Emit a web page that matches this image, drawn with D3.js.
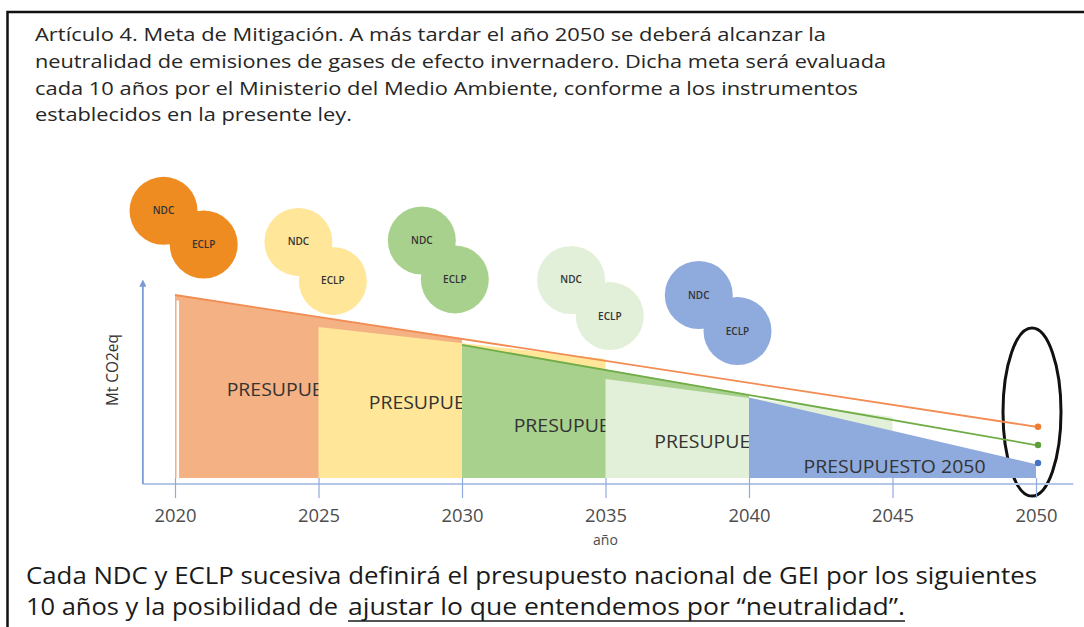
<!DOCTYPE html>
<html>
<head>
<meta charset="utf-8">
<script src="https://cdn.jsdelivr.net/npm/d3@7"></script>
<style>
  body { margin: 0; background: #fff; }
  svg { display: block; font-family: "Open Sans", sans-serif; }
</style>
</head>
<body>
<div id="chart"></div>
<script>
// ---- data ----
const header_lines = [
  "Artículo 4. Meta de Mitigación. A más tardar el año 2050 se deberá alcanzar la",
  "neutralidad de emisiones de gases de efecto invernadero. Dicha meta será evaluada",
  "cada 10 años por el Ministerio del Medio Ambiente, conforme a los instrumentos",
  "establecidos en la presente ley.",
];
const header_widths = [791, 851, 823, 317];

const footer_line1 = "Cada NDC y ECLP sucesiva definirá el presupuesto nacional de GEI por los siguientes";
const footer_line2a = "10 años y la posibilidad de";
const footer_line2b = "ajustar lo que entendemos  por “neutralidad”.";

const tick_years = [2020, 2025, 2030, 2035, 2040, 2045, 2050];

// each budget: years covered, emissions (Mt CO2eq) at start / end
const budget_names = [
  "PRESUPUESTO 2025",
  "PRESUPUESTO 2030",
  "PRESUPUESTO 2035",
  "PRESUPUESTO 2040",
  "PRESUPUESTO 2050",
];
const budget_years = [[2020, 2030], [2025, 2035], [2030, 2040], [2035, 2045], [2040, 2050]];
const budget_values = [[100, 76], [82.5, 65], [72.7, 45.4], [54.1, 33.3], [44, 7.5]];
const budget_colors = ["#f4b183", "#ffe699", "#a9d18e", "#e2f0d9", "#8faadc"];
const budget_label_at = [[2021.8, 48], [2026.75, 41], [2031.8, 28.4], [2036.7, 19.7], [2041.9, 6]];

// trajectories carried on to 2050
const trajectory_years = [[2020, 2050], [2030, 2050]];
const trajectory_values = [[100, 28], [72.7, 18]];
const trajectory_colors = ["#f28c52", "#70ad47"];
const end_dots = [28, 18, 8.2];
const end_dot_colors = ["#f07a32", "#5e9e3a", "#4472c4"];

// NDC / ECLP bubbles: [year, Mt] of their centres
const bubble_ndc = [[2019.6, 146], [2024.3, 129], [2028.6, 129.8], [2033.8, 108.2], [2038.25, 100]];
const bubble_eclp = [[2021, 127.6], [2025.5, 107.7], [2029.75, 108.5], [2035.15, 88.5], [2039.6, 80.3]];
const bubble_colors = ["#ee8c22", "#ffe699", "#a9d18e", "#e2f0d9", "#8faadc"];

// ---- layout ----
const width = 1084;
const height = 627;

const x = d3.scaleLinear().domain([2020, 2050]).range([175, 1036]);
const y = d3.scaleLinear().domain([0, 100]).range([478, 295]);

const axis_settings = {
  color: "#8faadc",
  y_color: "#7b9bd6",
  x_start: 2018.88,
  x_end: 2051.3,
  y_top: 106.5,
  offset: 6,
};

const svg = d3
  .select("#chart")
  .append("svg")
  .attr("width", width)
  .attr("height", height);

svg.append("rect").attr("width", width).attr("height", height).attr("fill", "#fff");

// frame
svg
  .append("path")
  .attr("d", `M7.5,${height} V12 H${width}`)
  .attr("fill", "none")
  .attr("stroke", "#111")
  .attr("stroke-width", 2.5);

// header
svg
  .append("g")
  .selectAll("text")
  .data(header_lines)
  .join("text")
  .attr("x", 35)
  .attr("y", (d, i) => 41 + i * 26.8)
  .attr("font-size", 18)
  .attr("fill", "#262626")
  .attr("textLength", (d, i) => header_widths[i])
  .attr("lengthAdjust", "spacingAndGlyphs")
  .text((d) => d);

// bubbles
const bubble_r = 34;
const bubbles_g = svg.append("g");
bubble_ndc.forEach((ndc, i) => {
  const pair = [
    [ndc, "NDC"],
    [bubble_eclp[i], "ECLP"],
  ];
  pair.forEach(([pos]) => {
    bubbles_g
      .append("circle")
      .attr("cx", x(pos[0]))
      .attr("cy", y(pos[1]))
      .attr("r", bubble_r)
      .attr("fill", bubble_colors[i]);
  });
  pair.forEach(([pos, label]) => {
    bubbles_g
      .append("text")
      .attr("x", x(pos[0]))
      .attr("y", y(pos[1]))
      .attr("dy", "0.35em")
      .attr("text-anchor", "middle")
      .attr("font-size", 10)
      .attr("font-weight", 600)
      .attr("fill", "#333")
      .text(label);
  });
});

// ring around 2050
svg
  .append("ellipse")
  .attr("cx", x(2050) - 4)
  .attr("cy", y(36))
  .attr("rx", 29)
  .attr("ry", 84)
  .attr("fill", "none")
  .attr("stroke", "#111")
  .attr("stroke-width", 3);

// budgets, each drawn over the previous one
const area = d3
  .area()
  .x((d) => x(d[0]))
  .y0(y(0))
  .y1((d) => y(d[1]));

const budgets_g = svg.append("g");
budget_names.forEach((name, i) => {
  const [y0, y1] = budget_years[i];
  const [v0, v1] = budget_values[i];
  budgets_g
    .append("path")
    .attr("d", area([[y0, v0], [y1, v1]]))
    .attr("fill", budget_colors[i]);
  budgets_g
    .append("text")
    .attr("x", x(budget_label_at[i][0]))
    .attr("y", y(budget_label_at[i][1]))
    .attr("dy", "0.35em")
    .attr("font-size", 17.5)
    .attr("fill", "#333")
    .attr("textLength", 182)
    .attr("lengthAdjust", "spacingAndGlyphs")
    .text(name);
});

// thin white gap near the left edge of the first budget
svg
  .append("line")
  .attr("x1", x(2020) + 2.8)
  .attr("x2", x(2020) + 2.8)
  .attr("y1", y(97))
  .attr("y2", y(0))
  .attr("stroke", "#fff")
  .attr("stroke-width", 2.5);

// trajectories
const line = d3
  .line()
  .x((d) => x(d[0]))
  .y((d) => y(d[1]));

trajectory_years.forEach((yrs, i) => {
  svg
    .append("path")
    .attr("d", line([[yrs[0], trajectory_values[i][0]], [yrs[1], trajectory_values[i][1]]]))
    .attr("fill", "none")
    .attr("stroke", trajectory_colors[i])
    .attr("stroke-width", 1.8);
});

svg
  .append("g")
  .selectAll("circle")
  .data(end_dots)
  .join("circle")
  .attr("cx", x(2050) + 2)
  .attr("cy", (d) => y(d))
  .attr("r", 3.2)
  .attr("fill", (d, i) => end_dot_colors[i]);

// axes
const base_y = y(0) + axis_settings.offset;

svg
  .append("defs")
  .append("marker")
  .attr("id", "arrow")
  .attr("viewBox", "0 0 10 10")
  .attr("refX", 5)
  .attr("refY", 5)
  .attr("markerWidth", 4)
  .attr("markerHeight", 4)
  .attr("orient", "auto")
  .append("path")
  .attr("d", "M0,0 L10,5 L0,10 z")
  .attr("fill", axis_settings.y_color);

svg
  .append("line")
  .attr("x1", x(axis_settings.x_start))
  .attr("x2", x(axis_settings.x_end))
  .attr("y1", base_y)
  .attr("y2", base_y)
  .attr("stroke", "#b4c7e7")
  .attr("stroke-width", 2);

svg
  .append("line")
  .attr("x1", x(axis_settings.x_start))
  .attr("x2", x(axis_settings.x_start))
  .attr("y1", base_y)
  .attr("y2", y(axis_settings.y_top))
  .attr("stroke", axis_settings.y_color)
  .attr("stroke-width", 1.8)
  .attr("marker-end", "url(#arrow)");

const x_axis = svg
  .append("g")
  .attr("transform", `translate(0, ${base_y})`)
  .call(d3.axisBottom(x).tickValues(tick_years).tickFormat(d3.format("d")).tickSizeOuter(0));

x_axis.select(".domain").remove();
x_axis
  .selectAll(".tick line")
  .attr("y1", -axis_settings.offset)
  .attr("y2", 14)
  .attr("stroke", axis_settings.color)
  .attr("stroke-width", 1.2);
x_axis
  .selectAll(".tick text")
  .attr("y", 38)
  .attr("dy", null)
  .attr("font-size", 18)
  .attr("font-family", "Open Sans, sans-serif")
  .attr("fill", "#4d4d4d")
  .attr("textLength", 42)
  .attr("lengthAdjust", "spacingAndGlyphs");

svg
  .append("text")
  .attr("x", x(2035))
  .attr("y", 545)
  .attr("text-anchor", "middle")
  .attr("font-size", 14)
  .attr("fill", "#4d4d4d")
  .text("año");

svg
  .append("text")
  .attr("transform", `translate(118, ${y(59)}) rotate(-90)`)
  .attr("text-anchor", "middle")
  .attr("font-size", 16)
  .attr("fill", "#333")
  .attr("textLength", 72)
  .attr("lengthAdjust", "spacingAndGlyphs")
  .text("Mt CO2eq");

// footer
const footer_settings = { size: 23, color: "#1a1a1a", y1: 584, y2: 615 };

svg
  .append("text")
  .attr("x", 26)
  .attr("y", footer_settings.y1)
  .attr("font-size", footer_settings.size)
  .attr("fill", footer_settings.color)
  .attr("textLength", 1011)
  .attr("lengthAdjust", "spacingAndGlyphs")
  .text(footer_line1);

svg
  .append("text")
  .attr("x", 26)
  .attr("y", footer_settings.y2)
  .attr("font-size", footer_settings.size)
  .attr("fill", footer_settings.color)
  .attr("textLength", 312)
  .attr("lengthAdjust", "spacingAndGlyphs")
  .text(footer_line2a);

svg
  .append("text")
  .attr("x", 348)
  .attr("y", footer_settings.y2)
  .attr("font-size", footer_settings.size)
  .attr("fill", footer_settings.color)
  .attr("textLength", 557)
  .attr("lengthAdjust", "spacingAndGlyphs")
  .text(footer_line2b);

svg
  .append("line")
  .attr("x1", 348)
  .attr("x2", 905)
  .attr("y1", 621)
  .attr("y2", 621)
  .attr("stroke", footer_settings.color)
  .attr("stroke-width", 1.5);
</script>
</body>
</html>
